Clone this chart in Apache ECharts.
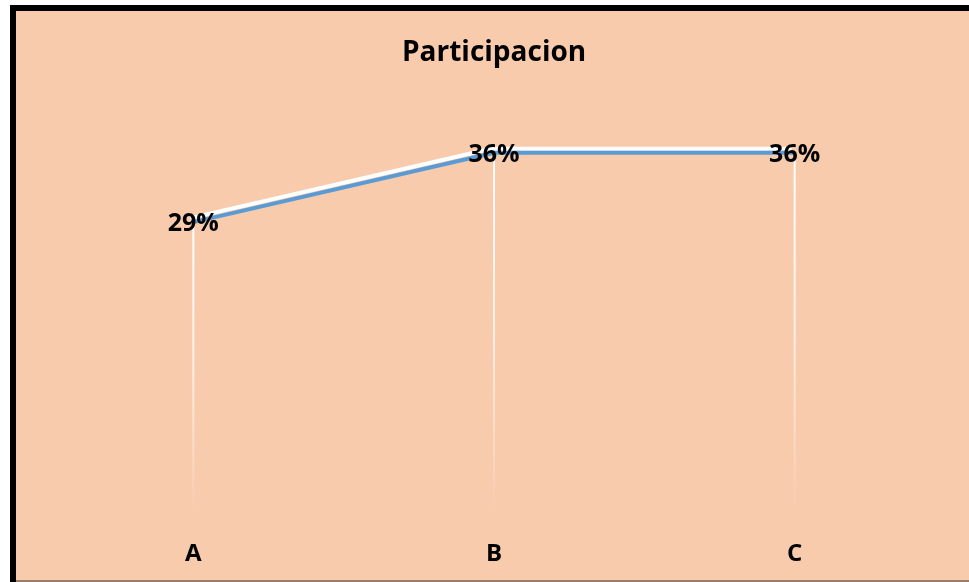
<!DOCTYPE html>
<html>
<head>
<meta charset="utf-8">
<script src="https://cdn.jsdelivr.net/npm/echarts@6/dist/echarts.min.js"></script>
<style>
html,body{margin:0;padding:0;background:#fff;}
#chart{width:969px;height:582px;}
</style>
</head>
<body>
<div id="chart"></div>
<script>
const titleText = 'Participacion';
const categories = ['A', 'B', 'C'];
const values = [0.29, 0.36, 0.36];

const chart = echarts.init(document.getElementById('chart'), null, {renderer: 'canvas'});
const font = '"Open Sans", sans-serif';
chart.setOption({
  backgroundColor: '#ffffff',
  animation: false,
  graphic: [
    {type: 'rect', z: -10, shape: {x: 13, y: 8, width: 1000, height: 600},
     style: {fill: '#F8CBAD', stroke: '#000', lineWidth: 6}},
    {type: 'rect', z: -9, shape: {x: 16, y: 580, width: 960, height: 2},
     style: {fill: '#9c7d6b'}}
  ],
  title: {
    text: titleText, left: 397, top: 34,
    textStyle: {fontFamily: font, fontWeight: 'bold', fontSize: 28, color: '#000'}
  },
  grid: {left: 43, right: 24, top: 113, bottom: 72, containLabel: false},
  xAxis: {
    type: 'category', data: categories, boundaryGap: true,
    axisLine: {show: false}, axisTick: {show: false},
    axisLabel: {margin: 32, fontFamily: font, fontWeight: 'bold', fontSize: 24, color: '#000'}
  },
  yAxis: {
    type: 'value', min: 0, max: 0.4, show: false, splitLine: {show: false}
  },
  series: [
    {
      type: 'bar', data: values, barWidth: 2, silent: true, z: 1,
      itemStyle: {color: new echarts.graphic.LinearGradient(0, 0, 0, 1, [
        {offset: 0, color: 'rgba(255,255,255,1)'},
        {offset: 0.5, color: 'rgba(255,255,255,0.7)'},
        {offset: 1, color: 'rgba(255,255,255,0)'}
      ])}
    },
    {
      type: 'line', data: values, symbol: 'circle', symbolSize: 1, showSymbol: true, z: 3,
      itemStyle: {color: 'rgba(0,0,0,0)', borderWidth: 0},
      lineStyle: {color: '#5B9BD5', width: 4, shadowColor: '#ffffff', shadowBlur: 0, shadowOffsetX: -3, shadowOffsetY: -4},
      label: {
        show: true, position: 'inside', offset: [0, 2], fontFamily: font, fontWeight: 'bold', fontSize: 25, color: '#000',
        formatter: p => Math.round(p.value * 100) + '%'
      }
    }
  ]
});
</script>
</body>
</html>
